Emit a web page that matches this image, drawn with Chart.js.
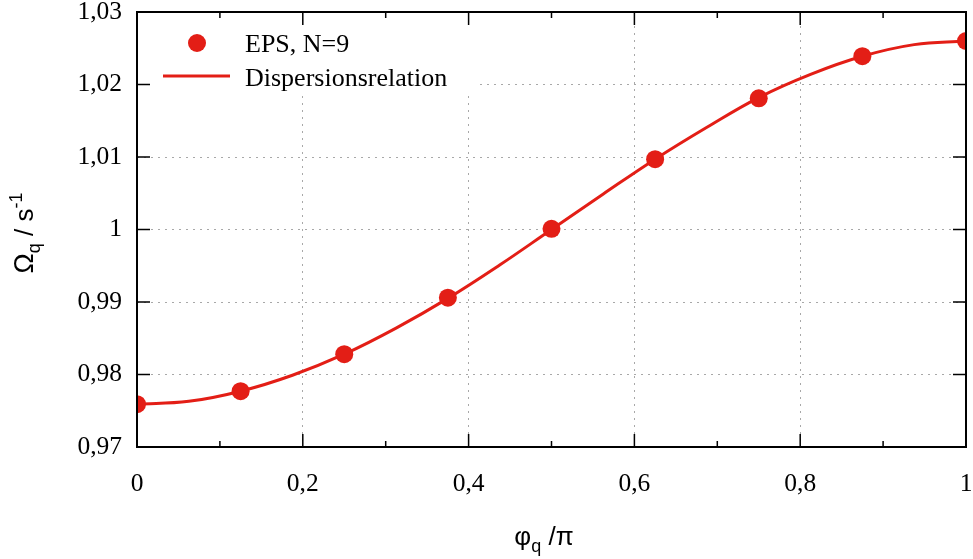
<!DOCTYPE html>
<html>
<head>
<meta charset="utf-8">
<script src="https://cdn.jsdelivr.net/npm/chart.js@4"></script>
<style>
  html, body { margin: 0; padding: 0; background: #fff; }
  #wrap { width: 973px; height: 559px; }
</style>
</head>
<body>
<div id="wrap"><canvas id="chart" width="973" height="559"></canvas></div>
<script>
// EPS simulation, N=9 (phi_q / pi -> Omega_q in 1/s)
const phiEps = [0, 0.125, 0.25, 0.375, 0.5, 0.625, 0.75, 0.875, 1];
const omegaEps = [0.9759, 0.9777, 0.9828, 0.9906, 1.0001, 1.0097, 1.0181, 1.0239, 1.0260];

// dispersion relation
const phiCurve = [0, 0.0625, 0.125, 0.1875, 0.25, 0.3125, 0.375, 0.4375, 0.5,
  0.5625, 0.625, 0.6875, 0.75, 0.8125, 0.875, 0.9375, 1];
const omegaCurve = [0.9759, 0.9763, 0.9777, 0.9799, 0.9828, 0.9864, 0.9905, 0.9951, 1.0000,
  1.0049, 1.0097, 1.0141, 1.0182, 1.0214, 1.0239, 1.0255, 1.0260];

const xMajor = [0, 0.2, 0.4, 0.6, 0.8, 1];
const xMinor = [0.1, 0.3, 0.5, 0.7, 0.9];
const yMajor = [0.97, 0.98, 0.99, 1.00, 1.01, 1.02, 1.03];

const RED = '#e31e16';
const SERIF = '"Liberation Serif", "Times New Roman", serif';
const SANS = '"Liberation Sans", Arial, sans-serif';

function fmt(v) {
  return String(Number(v.toFixed(2))).replace('.', ',');
}

// text with sub/superscripts: parts = [text, size, dy]
function drawRich(ctx, parts, cx, baseline) {
  let total = 0;
  const widths = parts.map(([t, size]) => {
    ctx.font = `${size}px ${SANS}`;
    const w = ctx.measureText(t).width;
    total += w;
    return w;
  });
  let x = cx - total / 2;
  ctx.textAlign = 'left';
  ctx.textBaseline = 'alphabetic';
  parts.forEach(([t, size, dy], i) => {
    ctx.font = `${size}px ${SANS}`;
    ctx.fillText(t, x, baseline + dy);
    x += widths[i];
  });
}

function noPad(s) {
  s.paddingTop = 0;
  s.paddingBottom = 0;
  s.paddingLeft = 0;
  s.paddingRight = 0;
}

const gnuplotFrame = {
  id: 'gnuplotFrame',
  afterDraw(chart) {
    const { ctx, chartArea: a, scales } = chart;
    const xs = scales.x, ys = scales.y;
    ctx.save();

    // legend box covers the grid
    ctx.fillStyle = '#fff';
    ctx.fillRect(150, 26, 330, 69);

    // frame
    ctx.strokeStyle = '#000';
    ctx.lineWidth = 2;
    ctx.strokeRect(a.left, a.top, a.right - a.left, a.bottom - a.top);

    // inward ticks, mirrored
    ctx.lineWidth = 1.5;
    ctx.beginPath();
    xMajor.forEach(v => {
      const px = xs.getPixelForValue(v);
      ctx.moveTo(px, a.bottom); ctx.lineTo(px, a.bottom - 13);
      ctx.moveTo(px, a.top); ctx.lineTo(px, a.top + 13);
    });
    xMinor.forEach(v => {
      const px = xs.getPixelForValue(v);
      ctx.moveTo(px, a.bottom); ctx.lineTo(px, a.bottom - 6);
      ctx.moveTo(px, a.top); ctx.lineTo(px, a.top + 6);
    });
    yMajor.forEach(v => {
      const py = ys.getPixelForValue(v);
      ctx.moveTo(a.left, py); ctx.lineTo(a.left + 13, py);
      ctx.moveTo(a.right, py); ctx.lineTo(a.right - 13, py);
    });
    ctx.stroke();

    // legend
    const ds = chart.data.datasets;
    ctx.fillStyle = RED;
    ctx.beginPath();
    ctx.arc(197, 43, 9, 0, Math.PI * 2);
    ctx.fill();
    ctx.strokeStyle = RED;
    ctx.lineWidth = 3;
    ctx.beginPath();
    ctx.moveTo(163, 76); ctx.lineTo(230, 76);
    ctx.stroke();
    ctx.fillStyle = '#000';
    ctx.font = `26px ${SERIF}`;
    ctx.textAlign = 'left';
    ctx.textBaseline = 'alphabetic';
    ctx.fillText(ds[0].label, 245, 52);
    ctx.fillText(ds[1].label, 245, 85.5);

    // axis titles
    drawRich(ctx, [['φ', 26, 0], ['q', 18, 7], [' /π', 26, 0]], 544, 545);
    ctx.save();
    ctx.translate(33, 233);
    ctx.rotate(-Math.PI / 2);
    drawRich(ctx, [['Ω', 27, 0], ['q', 18, 7], [' / s', 26, 0], ['-1', 18, -11]], 0, 0);
    ctx.restore();

    ctx.restore();
  }
};

new Chart(document.getElementById('chart'), {
  type: 'scatter',
  data: {
    datasets: [
      {
        label: 'EPS, N=9',
        data: phiEps.map((x, i) => ({ x, y: omegaEps[i] })),
        backgroundColor: RED,
        borderColor: RED,
        pointRadius: 9,
        pointBorderWidth: 0,
        showLine: false,
      },
      {
        label: 'Dispersionsrelation',
        data: phiCurve.map((x, i) => ({ x, y: omegaCurve[i] })),
        borderColor: RED,
        backgroundColor: RED,
        borderWidth: 3,
        pointRadius: 0,
        showLine: true,
        tension: 0.4,
      },
    ],
  },
  options: {
    responsive: false,
    animation: false,
    layout: { autoPadding: false, padding: { left: 0, top: 12, right: 7, bottom: 0 } },
    plugins: { legend: { display: false }, tooltip: { enabled: false } },
    scales: {
      x: {
        type: 'linear',
        min: 0,
        max: 1,
        afterFit: (s) => { s.height = 112; noPad(s); },
        afterBuildTicks: (s) => { s.ticks = xMajor.map(v => ({ value: v })); },
        ticks: {
          padding: 22,
          color: '#000',
          font: { family: SERIF, size: 25.5 },
          maxRotation: 0,
          callback: (v) => fmt(v),
        },
        grid: { color: '#a8a8a8', lineWidth: 1, drawTicks: false },
        border: { display: false, dash: [2, 5] },
      },
      y: {
        type: 'linear',
        min: 0.97,
        max: 1.03,
        afterFit: (s) => { s.width = 137; noPad(s); },
        afterBuildTicks: (s) => { s.ticks = yMajor.map(v => ({ value: v })); },
        ticks: {
          padding: 15,
          color: '#000',
          font: { family: SERIF, size: 25.5 },
          callback: (v) => fmt(v),
        },
        grid: { color: '#a8a8a8', lineWidth: 1, drawTicks: false },
        border: { display: false, dash: [2, 5] },
      },
    },
  },
  plugins: [gnuplotFrame],
});
</script>
</body>
</html>
